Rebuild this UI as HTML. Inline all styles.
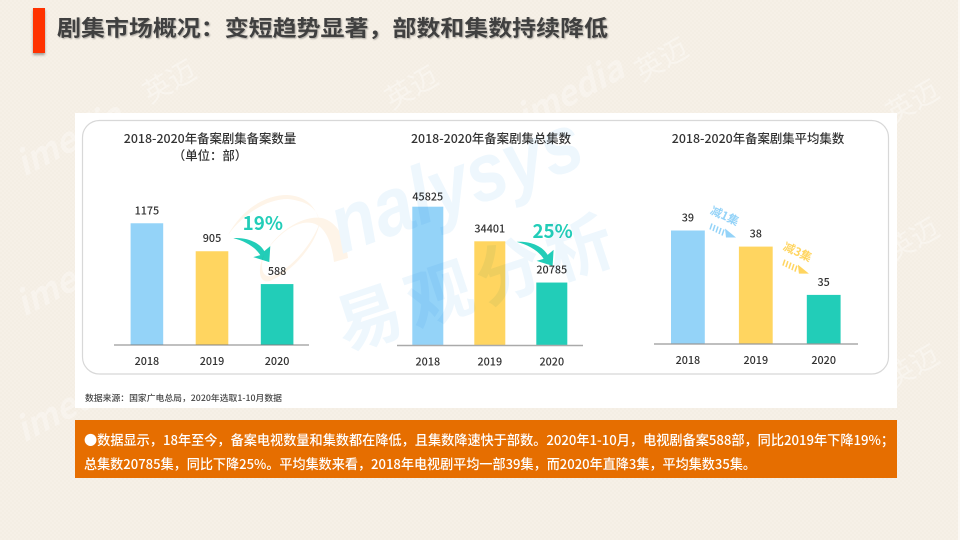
<!DOCTYPE html>
<html lang="zh-CN">
<head>
<meta charset="utf-8">
<title>剧集市场概况</title>
<style>
html,body{margin:0;padding:0;width:960px;height:540px;overflow:hidden;background:#f6f0e7;}
#stage{position:absolute;left:0;top:0;width:960px;height:540px;}
text{font-family:"Noto Sans CJK SC","Liberation Sans",sans-serif;}
.wm{fill:#ffffff;fill-opacity:.3;font-weight:700;}
.wc{fill:#ffffff;fill-opacity:.34;font-weight:400;}
.title{font-size:22px;font-weight:700;fill:#404040;}
.ct{font-size:12.4px;font-weight:500;fill:#333;text-anchor:middle;}
.val,.tick{font-size:10.8px;fill:#333;text-anchor:middle;font-weight:500;}
.pct{font-size:18.8px;font-weight:700;fill:#22cdb8;text-anchor:middle;}
.band{font-size:13.5px;fill:#fff;font-weight:500;}
</style>
</head>
<body>
<svg id="stage" xmlns="http://www.w3.org/2000/svg" width="960" height="540" viewBox="0 0 960 540">
  <defs>
    <pattern id="weave" width="4" height="4" patternUnits="userSpaceOnUse">
      <rect width="4" height="4" fill="#f6f0e7"/>
      <rect width="2" height="2" fill="#f4eee4"/>
      <rect x="2" y="2" width="2" height="2" fill="#f4eee4"/>
    </pattern>
    <filter id="bs" x="-50%" y="-20%" width="200%" height="140%"><feDropShadow dx="0" dy="2" stdDeviation="1.2" flood-color="#000" flood-opacity=".35"/></filter>
    <filter id="ts" x="-5%" y="-20%" width="110%" height="150%"><feDropShadow dx="1" dy="1" stdDeviation=".7" flood-color="#000" flood-opacity=".3"/></filter>
    <filter id="soft" x="-2%" y="-2%" width="104%" height="104%"><feGaussianBlur stdDeviation=".3"/></filter>
  </defs>

  <rect width="960" height="540" fill="url(#weave)"/>
  <rect x="958" width="2" height="540" fill="#fbf8f4"/>

  <g>
    <text class="wc" font-size="28" transform="translate(150,104) rotate(-30)">英迈</text>
    <text class="wc" font-size="28" transform="translate(392,110) rotate(-30)">英迈</text>
    <text class="wc" font-size="28" transform="translate(642,82) rotate(-30)">英迈</text>
    <text class="wc" font-size="28" transform="translate(893,124) rotate(-30)">英迈</text>
    <text class="wc" font-size="28" transform="translate(893,262) rotate(-30)">英迈</text>
    <text class="wc" font-size="28" transform="translate(893,389) rotate(-30)">英迈</text>
    <text class="wm" font-size="34" font-style="italic" transform="translate(24,177) rotate(-28)">imedia</text>
    <text class="wm" font-size="34" font-style="italic" transform="translate(24,317) rotate(-28)">imedia</text>
    <text class="wm" font-size="34" font-style="italic" transform="translate(24,443) rotate(-28)">imedia</text>
    <text class="wm" font-size="34" font-style="italic" transform="translate(525,130) rotate(-28)">imedia</text>
  </g>

  <rect x="33" y="8" width="12" height="45" fill="#ff3300" filter="url(#bs)"/>
  <text class="title" x="57" y="36" textLength="551" lengthAdjust="spacingAndGlyphs" filter="url(#ts)">剧集市场概况：变短趋势显著，部数和集数持续降低</text>

  <rect x="75" y="113" width="822" height="295" fill="#ffffff"/>
  <rect x="82.5" y="120.5" width="806" height="253.5" rx="17" fill="none" stroke="#d8d8d8" stroke-width="1.2"/>

  <g id="charts" filter="url(#soft)"></g>

  <g style="mix-blend-mode:multiply">
    <path d="M228,235C243,208 266,195 287,195C305,196 316,205 320,224C318,206 304,201 288,199C268,199 245,212 228,235Z" fill="#fef4e8"/>
    <path d="M264,254C280,228 305,215 322,218C338,222 346,240 348,258L334,262C332,244 326,226 312,223C296,220 278,234 264,254Z" fill="#fef4e8"/>
    <path d="M320,222C316,245 292,272 270,281C259,284 257,270 264,254C260,268 262,278 272,276C290,270 312,245 320,222Z" fill="#fef4e8"/>
    <text font-size="82" font-weight="700" font-style="italic" fill="#eef7fd" transform="translate(342,254) rotate(-20)" style="font-family:'Liberation Sans',sans-serif" textLength="262" lengthAdjust="spacingAndGlyphs">nalysys</text>
    <text font-size="66" font-weight="700" fill="#eef7fd" transform="translate(345,351) rotate(-18.4)" letter-spacing="8">易观分析</text>
  </g>

  <text x="85" y="401" font-size="8.3" font-weight="500" fill="#444" textLength="197" lengthAdjust="spacingAndGlyphs">数据来源：国家广电总局，2020年选取1-10月数据</text>

  <rect x="75" y="420" width="822" height="58" fill="#e66e00"/>
  <g>
    <text class="band" x="84" y="445" textLength="810" lengthAdjust="spacingAndGlyphs">●数据显示，18年至今，备案电视数量和集数都在降低，且集数降速快于部数。2020年1-10月，电视剧备案588部，同比2019年下降19%；</text>
    <text class="band" x="84" y="469" textLength="672" lengthAdjust="spacingAndGlyphs">总集数20785集，同比下降25%。平均集数来看，2018年电视剧平均一部39集，而2020年直降3集，平均集数35集。</text>
  </g>
</svg>

<script>
// Chart data
const years = ["2018", "2019", "2020"];
const seriesCount = [1175, 905, 588];
const seriesEpisodes = [45825, 34401, 20785];
const seriesAverage = [39, 38, 35];
const changeCount = "19%";
const changeEpisodes = "25%";
const changeAverage = ["减1集", "减3集"];
const barColors = ["#94d3f8", "#ffd561", "#22cdb8"];

const NS = "http://www.w3.org/2000/svg";
const root = document.getElementById("charts");

function svgEl(tag, parent, attrs, text) {
  const el = document.createElementNS(NS, tag);
  for (const k in attrs) el.setAttribute(k, attrs[k]);
  if (text !== undefined) el.textContent = text;
  parent.appendChild(el);
  return el;
}

// Axis functions
function bandScale(left, step) { return function (i) { return left + i * step; }; }
function linearScale(base, domainMin, pxPerUnit) { return function (v) { return base - (v - domainMin) * pxPerUnit; }; }

function drawChart(cfg, values) {
  const g = svgEl("g", root, {});
  
  
  const x = bandScale(cfg.left, cfg.step);
  const y = linearScale(cfg.base, cfg.min, cfg.ppu);

  cfg.titles.forEach(function (t, i) {
    const title = svgEl("text", g, { class: "ct", x: cfg.titleX, y: 143 + i * 17 }, t);
    
    
  });

  values.forEach(function (v, i) {
    const bar = svgEl("rect", g, { x: x(i), y: y(v), width: cfg.barW, height: cfg.base - y(v), fill: barColors[i] });
    
    

    const label = svgEl("text", g, { class: "val", x: x(i) + cfg.barW / 2, y: y(v) - (i === 0 ? cfg.firstGap : 9) }, String(v));
    
    

    const tick = svgEl("text", g, { class: "tick", x: x(i) + cfg.barW / 2, y: cfg.base + 20 }, years[i]);
    
    
  });

  const axis = svgEl("line", g, { x1: cfg.axis0, x2: cfg.axis1, y1: cfg.base, y2: cfg.base, stroke: cfg.axisColor, "stroke-width": cfg.axisW });
  
  
  return { g: g, x: x, y: y };
}

function drawDrop(parent, ox, oy, pct, pctDx, pctDy) {
  const a = svgEl("g", parent, { transform: "translate(" + ox + "," + oy + ")" });
  
  
  const arrow = svgEl("path", a, {
    d: "M-37,-46C-24,-47 -11,-42 -6,-33L0,-38L-1,-22L-17,-27L-10,-29C-15,-37 -25,-43 -37,-46Z",
    fill: "#22cdb8"
  });
  
  
  const pctLabel = svgEl("text", a, { class: "pct", x: pctDx, y: pctDy }, pct);
  
  
}

function drawStep(parent, ox, oy, label, color) {
  const a = svgEl("g", parent, { transform: "translate(" + ox + "," + oy + ")" });
  
  
  const t = svgEl("text", a, {
    transform: "translate(-2,-9) rotate(25)",
    "font-size": "11.5",
    "font-weight": "700",
    "text-anchor": "middle",
    fill: color
  }, label);
  
  
  for (let s = 0; s < 5; s++) {
    const st = svgEl("line", a, {
      x1: -13 + s * 3, y1: -5 + s * 1.5,
      x2: -15 + s * 3, y2: 1 + s * 1.5,
      stroke: color, "stroke-width": 1.5
    });
    
    
  }
  const tri = svgEl("path", a, { d: "M0,0L11,9L1,9Z", fill: color });
  
  
}

const c1 = drawChart({
  name: "chart-filing-count", titles: ["2018-2020年备案剧集备案数量", "（单位：部）"], titleX: 210,
  left: 130.6, step: 65.1, barW: 32.6, base: 345, min: 0, ppu: 0.1036, firstGap: 9,
  axis0: 114, axis1: 309, axisColor: "#808080", axisW: 1
}, seriesCount);
drawDrop(c1.g, c1.x(2) + 9.5, c1.y(seriesCount[2]), changeCount, -7.5, -54);

const c2 = drawChart({
  name: "chart-total-episodes", titles: ["2018-2020年备案剧集总集数"], titleX: 491,
  left: 412.3, step: 62, barW: 31, base: 345.5, min: 0, ppu: 0.003029, firstGap: 6,
  axis0: 397, axis1: 583, axisColor: "#aaaaaa", axisW: 1.4
}, seriesEpisodes);
drawDrop(c2.g, c2.x(2) + 17.3, c2.y(seriesEpisodes[2]) + 5.3, changeEpisodes, -1, -50);

const c3 = drawChart({
  name: "chart-average-episodes", titles: ["2018-2020年备案剧集平均集数"], titleX: 758,
  left: 671, step: 67.9, barW: 33.8, base: 344, min: 31.95, ppu: 16.1, firstGap: 9,
  axis0: 654, axis1: 858, axisColor: "#999999", axisW: 1.2
}, seriesAverage);
drawStep(c3.g, c3.x(0) + 54, c3.y(seriesAverage[0]) - 2, changeAverage[0], "#94d3f8");
drawStep(c3.g, c3.x(1) + 59, c3.y(seriesAverage[1]) + 18, changeAverage[1], "#ffd561");
</script>
</body>
</html>
